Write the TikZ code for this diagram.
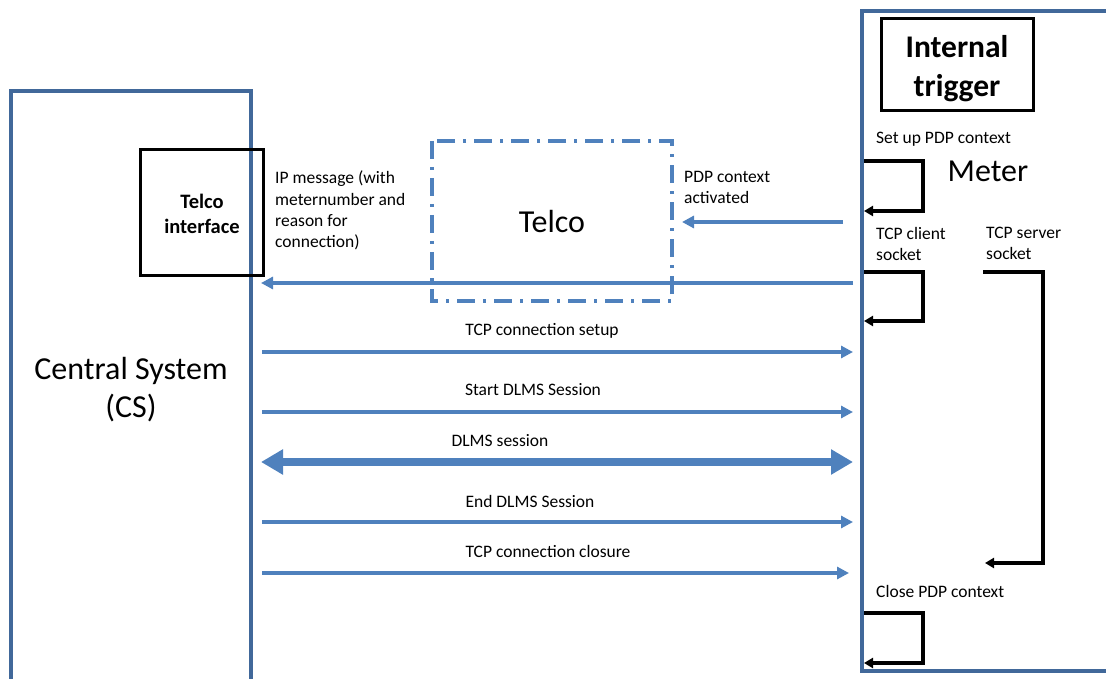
\documentclass[tikz,border=0pt]{standalone}
\usepackage{fontspec}
\setmainfont{Carlito}
\usetikzlibrary{arrows.meta}
\definecolor{frameblue}{HTML}{41689A}
\definecolor{arrblue}{HTML}{4F81BD}
\tikzset{
  frame/.style={draw=frameblue, line width=3.5pt},
  msg/.style={draw=arrblue, line width=3.2pt, -{Triangle[length=12pt,width=12pt]}},
  big/.style={draw=arrblue, line width=8pt, {Triangle[length=22pt,width=24pt]}-{Triangle[length=22pt,width=24pt]}},
  loop/.style={draw=black, line width=3.5pt, -{Triangle[length=9pt,width=10pt]}},
  small/.style={font=\fontsize{17.5}{21.3}\selectfont, inner sep=0pt, align=left},
  large/.style={font=\fontsize{32}{38}\selectfont, inner sep=0pt, align=center},
  blackbox/.style={draw=black, line width=3pt, inner sep=0pt},
}
\begin{document}
\begin{tikzpicture}[x=1pt,y=-1pt]
\useasboundingbox (0,0) rectangle (1106,679);
% Central system frame
\draw[frame] (11,682) -- (11,91) -- (251,91) -- (251,682);
\node[large] (cs) at (131,390) {Central System\\(CS)};
% Meter frame
\draw[frame] (1110,11) -- (862,11) -- (862,671) -- (1110,671);
% Telco interface
\node[blackbox, minimum width=123pt, minimum height=125pt] (ti) at (201.5,212.5) {};
\node[font=\fontsize{20.5}{25}\selectfont\bfseries, align=center] (til) at (202,214) {Telco\\interface};
% Telco dash-dot box
\draw[draw=arrblue, line width=3.2pt, dash pattern=on 18pt off 8pt on 3pt off 8pt] (432,141) rectangle (672,301);
\node[large] (telco) at (552,222) {Telco};
% Internal trigger
\node[blackbox, minimum width=152pt, minimum height=92pt] (it) at (957.5,65) {};
\node[font=\fontsize{31.5}{39}\selectfont\bfseries, align=center] (itl) at (957,69) {Internal\\trigger};
\node[large] (meter) at (988,171) {Meter};
% Meter labels
\node[small, anchor=west] (setup) at (876,139) {Set up PDP context};
\node[small, anchor=north west] (client) at (876,227) {TCP client\\socket};
\node[small, anchor=north west] (server) at (986,227) {TCP server\\socket};
\node[small, anchor=west] (close) at (876,591) {Close PDP context};
% loops
\coordinate (l1a) at (864,161); \coordinate (l1b) at (864,211);
\draw[loop] (l1a) -| (923,186) |- (l1b);
\coordinate (l2a) at (864,272); \coordinate (l2b) at (864,321);
\draw[loop] (l2a) -| (923,296) |- (l2b);
\coordinate (l3a) at (864,613); \coordinate (l3b) at (864,663);
\draw[loop] (l3a) -| (923,638) |- (l3b);
\coordinate (s1) at (983,272); \coordinate (s2) at (985,563);
\draw[loop] (s1) -| (1043,420) |- (s2);
% PDP context activated
\coordinate (pa) at (843,222); \coordinate (pb) at (682,222);
\draw[msg] (pa) -- (pb);
\node[small, anchor=north west] (pdpl) at (684,171) {PDP context\\activated};
% IP message
\coordinate (ipa) at (853,283); \coordinate (ipb) at (261,283);
\draw[msg] (ipa) -- (ipb);
\node[small, anchor=north west] (ipl) at (275,171) {IP message (with\\meternumber and\\reason for\\connection)};
% CS to meter messages
\coordinate (a1) at (262,352); \coordinate (b1) at (853,352);
\draw[msg] (a1) -- (b1);
\node[small] (t1) at (542,331) {TCP connection setup};
\coordinate (a2) at (262,412); \coordinate (b2) at (853,412);
\draw[msg] (a2) -- (b2);
\node[small] (t2) at (533,390) {Start DLMS Session};
\coordinate (a3) at (261,462); \coordinate (b3) at (853,462);
\draw[big] (a3) -- (b3);
\node[small] (t3) at (500,441) {DLMS session};
\coordinate (a4) at (262,522); \coordinate (b4) at (853,522);
\draw[msg] (a4) -- (b4);
\node[small] (t4) at (530,501) {End DLMS Session};
\coordinate (a5) at (262,573); \coordinate (b5) at (849,573);
\draw[msg] (a5) -- (b5);
\node[small] (t5) at (548,551) {TCP connection closure};
\end{tikzpicture}
\end{document}
